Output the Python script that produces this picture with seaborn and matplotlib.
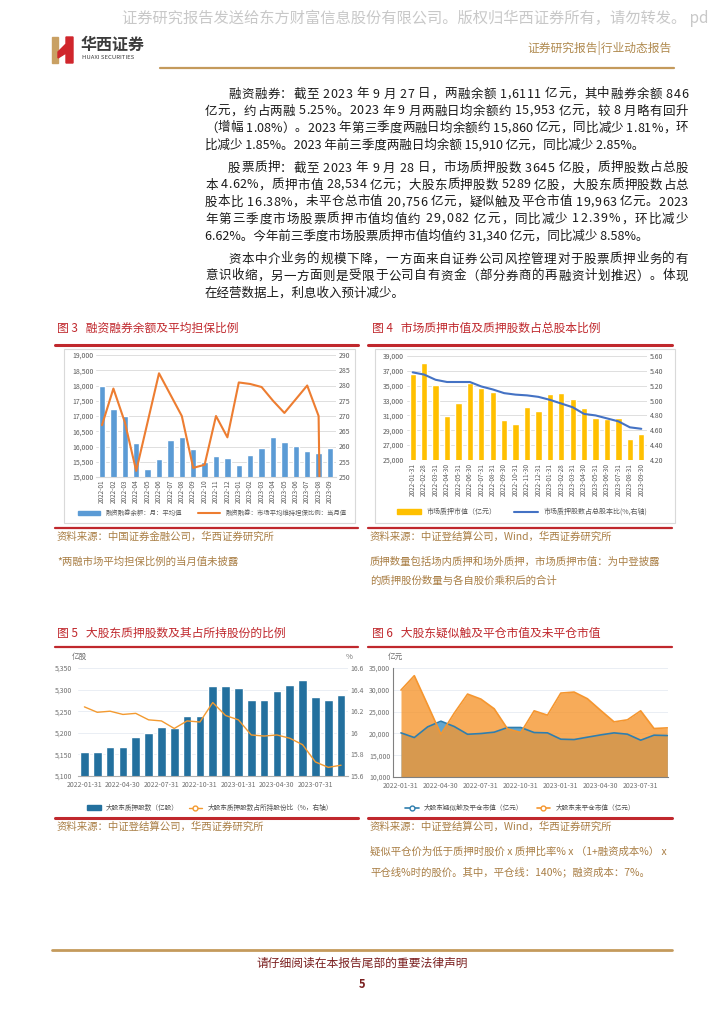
import numpy as np
import matplotlib
matplotlib.use("Agg")
import matplotlib.pyplot as plt
import seaborn as sns
from matplotlib.patches import Rectangle, Polygon, Patch
from matplotlib.lines import Line2D
from matplotlib.ticker import FuncFormatter

sns.set_style("white")
plt.rcParams['font.family'] = ['Noto Sans CJK SC', 'DejaVu Sans']
plt.rcParams['axes.unicode_minus'] = False

W, H = 724, 1024

# ---------------- data ----------------
months_3 = ['2022-01', '2022-02', '2022-03', '2022-04', '2022-05', '2022-06', '2022-07',
            '2022-08', '2022-09', '2022-10', '2022-11', '2022-12', '2023-01', '2023-02',
            '2023-03', '2023-04', '2023-05', '2023-06', '2023-07', '2023-08', '2023-09']
margin_balance = [17980, 17220, 16990, 16110, 15250, 15580, 16220, 16310, 15910, 15480, 15680,
                  15610, 15390, 15710, 15940, 16310, 16160, 16010, 15860, 15780, 15960]
# 2023-09 not disclosed (reported as 0 in source chart)
margin_ratio = [267, 279, 268, 252, 268, 284, 277, 270, 253, 254, 270,
                263, 281, 280.5, 279.5, 275, 271, 275.5, 280, 270, 0]

month_ends = ['2022-01-31', '2022-02-28', '2022-03-31', '2022-04-30', '2022-05-31', '2022-06-30',
              '2022-07-31', '2022-08-31', '2022-09-30', '2022-10-31', '2022-11-30', '2022-12-31',
              '2023-01-31', '2023-02-28', '2023-03-31', '2023-04-30', '2023-05-31', '2023-06-30',
              '2023-07-31', '2023-08-31', '2023-09-30']
pledge_value = [36600, 38000, 35060, 30900, 32700, 35400, 34660, 34200, 30450, 29830, 32100,
                31570, 33850, 34080, 33230, 31980, 30680, 30540, 30720, 27810, 28530]
pledge_share_pct = [5.38, 5.35, 5.28, 5.25, 5.25, 5.25, 5.19, 5.15, 5.10, 5.08, 5.07,
                    5.05, 5.01, 4.96, 4.91, 4.82, 4.80, 4.76, 4.72, 4.64, 4.62]

major_pledge_shares = [5155, 5155, 5167, 5166, 5190, 5199, 5214, 5212, 5238, 5239, 5308,
                       5308, 5304, 5276, 5277, 5296, 5310, 5322, 5283, 5276, 5287]
major_pledge_pct = [16.24, 16.19, 16.20, 16.17, 16.18, 16.12, 16.11, 16.04, 16.11, 16.10, 16.28,
                    16.16, 16.12, 15.98, 15.97, 15.98, 15.95, 15.89, 15.73, 15.68, 15.70]

near_liquidation = [20120, 19050, 21500, 22800, 21580, 19800, 19970, 20280, 21350, 21350, 20200,
                    20120, 18670, 18590, 19130, 19660, 20120, 19820, 18440, 19590, 19510]
not_liquidated = [29940, 33240, 26560, 19800, 24650, 29020, 27870, 25650, 21040, 20200, 25180,
                  24180, 29250, 29480, 27950, 25260, 22650, 23110, 25180, 21120, 21270]

para1 = ["融资融券：截至 2023 年 9 月 27 日，两融余额 1,6111 亿元，其中融券余额 846",
         "亿元，约占两融 5.25%。2023 年 9 月两融日均余额约 15,953 亿元，较 8 月略有回升",
         "（增幅 1.08%）。2023 年第三季度两融日均余额约 15,860 亿元，同比减少 1.81%，环",
         "比减少 1.85%。2023 年前三季度两融日均余额 15,910 亿元，同比减少 2.85%。"]
para2 = ["股票质押：截至 2023 年 9 月 28 日，市场质押股数 3645 亿股，质押股数占总股",
         "本 4.62%，质押市值 28,534 亿元；大股东质押股数 5289 亿股，大股东质押股数占总",
         "股本比 16.38%，未平仓总市值 20,756 亿元，疑似触及平仓市值 19,963 亿元。2023",
         "年第三季度市场股票质押市值均值约 29,082 亿元，同比减少 12.39%，环比减少",
         "6.62%。今年前三季度市场股票质押市值均值约 31,340 亿元，同比减少 8.58%。"]
para3 = ["资本中介业务的规模下降，一方面来自证券公司风控管理对于股票质押业务的有",
         "意识收缩，另一方面则是受限于公司自有资金（部分券商的再融资计划推迟）。体现",
         "在经营数据上，利息收入预计减少。"]

# ---------------- colours ----------------
RED = '#C0282D'
GOLD = '#C49A5C'
SRC = '#A97E45'
TICK = '#595959'
GRID = '#D9D9D9'

fig = plt.figure(figsize=(W / 100, H / 100), dpi=100)
renderer = fig.canvas.get_renderer()


def fx(x):
    return x / W


def fy(y):
    return 1 - y / H


def px_axes(x0, y0, x1, y1):
    return fig.add_axes([fx(x0), fy(y1), (x1 - x0) / W, (y1 - y0) / H])


def hline(x0, x1, y, color, lw):
    fig.add_artist(Line2D([fx(x0), fx(x1)], [fy(y), fy(y)], color=color, lw=lw,
                          transform=fig.transFigure))


def justify_line(s, x0, x1, y, size, color='#1a1a1a'):
    # spread characters so the line fills x0..x1
    ws = []
    for ch in s:
        t = fig.text(0, 0, ch, fontsize=size)
        ws.append(t.get_window_extent(renderer).width)
        t.remove()
    extra = (x1 - x0 - sum(ws)) / max(len(s) - 1, 1)
    x = x0
    for ch, w in zip(s, ws):
        fig.text(fx(x), fy(y), ch, fontsize=size, color=color, va='center', ha='left')
        x += w + extra


# ---------------- header ----------------
fig.text(fx(122), fy(18), "证券研究报告发送给东方财富信息股份有限公司。版权归华西证券所有，请勿转发。 pd",
         fontsize=11, color='#C8C8C8', va='center', ha='left')
fig.add_artist(Polygon([(fx(52), fy(37)), (fx(58), fy(37)), (fx(58), fy(63)), (fx(52), fy(63))],
                       closed=True, color='#C9A063', transform=fig.transFigure))
fig.add_artist(Polygon([(fx(58), fy(52)), (fx(66), fy(44)), (fx(66), fy(37)), (fx(73), fy(37)),
                        (fx(73), fy(63)), (fx(66), fy(63)), (fx(66), fy(53)), (fx(58), fy(58))],
                       closed=True, color='#D0262C', transform=fig.transFigure))
fig.text(fx(81), fy(45), "华西证券", fontsize=11.5, fontweight='bold', color='#3C3C3C', va='center')
fig.text(fx(82), fy(57.5), "HUAXI SECURITIES", fontsize=4.3, color='#3C3C3C', va='center')
fig.text(fx(672), fy(48), "证券研究报告|行业动态报告", fontsize=8.5, color='#B08A4F', va='center', ha='right')
hline(160, 674, 68, GOLD, 1.6)

# ---------------- body text ----------------
FS = 9
x_left, x_right, indent = 205, 688, 228
y = 94
step = 17.0
for para in (para1, para2, para3):
    for i, line in enumerate(para):
        x0 = indent if i == 0 else x_left
        if i < len(para) - 1:
            justify_line(line, x0, x_right, y, FS)
        else:
            fig.text(fx(x0), fy(y), line, fontsize=FS, color='#1a1a1a', va='center')
        y += step
    y += 6

# ---------------- figure titles / frames ----------------
fig.text(fx(57), fy(328), "图 3   融资融券余额及平均担保比例", fontsize=8.5, color=RED, va='center')
fig.text(fx(372), fy(328), "图 4   市场质押市值及质押股数占总股本比例", fontsize=8.5, color=RED, va='center')
fig.text(fx(57), fy(633), "图 5   大股东质押股数及其占所持股份的比例", fontsize=8.5, color=RED, va='center')
fig.text(fx(372), fy(633), "图 6   大股东疑似触及平仓市值及未平仓市值", fontsize=8.5, color=RED, va='center')

for (a, b) in ((55, 358), (368, 672)):
    hline(a, b, 345, RED, 2.2)
    hline(a, b, 528, RED, 1.6)
    hline(a, b, 647, RED, 1.6)
    hline(a, b, 818, RED, 2.2)

for (a, b) in ((64, 355), (375, 675)):
    fig.add_artist(Rectangle((fx(a), fy(523)), (b - a) / W, (523 - 349) / H, fill=False,
                             ec=GRID, lw=0.8, transform=fig.transFigure))

fig.text(fx(57), fy(537), "资料来源：中国证券金融公司，华西证券研究所", fontsize=7.5, color=SRC, va='center')
fig.text(fx(57), fy(562), "*两融市场平均担保比例的当月值未披露", fontsize=7.5, color=SRC, va='center')
fig.text(fx(370), fy(537), "资料来源：中证登结算公司，Wind，华西证券研究所", fontsize=7.5, color=SRC, va='center')
fig.text(fx(370), fy(562), "质押数量包括场内质押和场外质押，市场质押市值：为中登披露", fontsize=7.5, color=SRC, va='center')
fig.text(fx(370), fy(581), "的质押股份数量与各自股价乘积后的合计", fontsize=7.5, color=SRC, va='center')
fig.text(fx(57), fy(827), "资料来源：中证登结算公司，华西证券研究所", fontsize=7.5, color=SRC, va='center')
fig.text(fx(370), fy(827), "资料来源：中证登结算公司，Wind，华西证券研究所", fontsize=7.5, color=SRC, va='center')
fig.text(fx(370), fy(852), "疑似平仓价为低于质押时股价 x 质押比率% x （1+融资成本%） x", fontsize=7.5, color=SRC, va='center')
fig.text(fx(370), fy(872), "平仓线%时的股价。其中，平仓线：140%；融资成本：7%。", fontsize=7.5, color=SRC, va='center')

comma = FuncFormatter(lambda v, p: f"{v:,.0f}")


def style_excel(ax):
    for s in ax.spines.values():
        s.set_visible(False)
    ax.tick_params(length=0, labelsize=5, colors=TICK, pad=2)
    ax.grid(axis='y', color=GRID, lw=0.6)
    ax.set_axisbelow(True)
    ax.set_xlabel('')
    ax.set_ylabel('')


# ---------------- chart 3 ----------------
ax3 = px_axes(96.3, 355, 335.7, 477)
sns.barplot(x=months_3, y=margin_balance, ax=ax3, color='#5B9BD5', saturation=1, width=0.55)
ax3.set_ylim(15000, 19000)
ax3.set_yticks(np.arange(15000, 19001, 500))
ax3.yaxis.set_major_formatter(comma)
style_excel(ax3)
ax3.spines['bottom'].set_visible(True)
ax3.spines['bottom'].set_color(GRID)
ax3.tick_params(axis='x', rotation=90, labelsize=4.6)
ax3b = ax3.twinx()
sns.lineplot(x=np.arange(len(months_3)), y=margin_ratio, ax=ax3b, color='#ED7D31', lw=1.5)
ax3b.set_ylim(250, 290)
ax3b.set_yticks(np.arange(250, 291, 5))
style_excel(ax3b)
ax3b.grid(False)
ax3.set_xlim(-0.5, len(months_3) - 0.5)
ax3.legend(handles=[Patch(color='#5B9BD5', label='融资融券余额：月：平均值'),
                    Line2D([], [], color='#ED7D31', lw=1.5, label='融资融券：市场平均维持担保比例：当月值')],
           loc='center', bbox_to_anchor=(fx(212), fy(513)), bbox_transform=fig.transFigure,
           ncol=2, frameon=False, fontsize=4.6, handlelength=3.5, columnspacing=2.5,
           labelcolor=TICK)

# ---------------- chart 4 ----------------
ax4 = px_axes(407, 356, 647, 460)
sns.barplot(x=month_ends, y=pledge_value, ax=ax4, color='#FFC000', saturation=1, width=0.55)
ax4.set_ylim(25000, 39000)
ax4.set_yticks(np.arange(25000, 39001, 2000))
ax4.yaxis.set_major_formatter(comma)
style_excel(ax4)
ax4.tick_params(axis='x', rotation=90, labelsize=4.6)
ax4b = ax4.twinx()
sns.lineplot(x=np.arange(len(month_ends)), y=pledge_share_pct, ax=ax4b, color='#4472C4', lw=1.5)
ax4b.set_ylim(4.2, 5.6)
ax4b.set_yticks(np.arange(4.2, 5.61, 0.2))
ax4b.yaxis.set_major_formatter(FuncFormatter(lambda v, p: f"{v:.2f}"))
style_excel(ax4b)
ax4b.grid(False)
ax4.set_xlim(-0.5, len(month_ends) - 0.5)
ax4.legend(handles=[Patch(color='#FFC000', label='市场质押市值（亿元）'),
                    Line2D([], [], color='#4472C4', lw=1.5, label='市场质押股数占总股本比(%,右轴)')],
           loc='center', bbox_to_anchor=(fx(522), fy(512)), bbox_transform=fig.transFigure,
           ncol=2, frameon=False, fontsize=5, handlelength=3.5, columnspacing=2.5,
           labelcolor=TICK)

tick_idx = list(range(0, 21, 3))

# ---------------- chart 5 ----------------
ax5 = px_axes(78, 668, 347.5, 776)
sns.barplot(x=month_ends, y=major_pledge_shares, ax=ax5, color='#23709E', saturation=1, width=0.68)
ax5.set_ylim(5100, 5350)
ax5.set_yticks(np.arange(5100, 5351, 50))
ax5.yaxis.set_major_formatter(comma)
style_excel(ax5)
ax5.grid(axis='y', color='#E6EBF2', lw=0.6)
ax5.spines['bottom'].set_visible(True)
ax5.spines['bottom'].set_color('#B0B0B0')
ax5.set_xticks(tick_idx)
ax5.set_xticklabels([month_ends[i] for i in tick_idx])
ax5.tick_params(labelsize=5, colors='#707070')
ax5.tick_params(axis='y', pad=4)
ax5.tick_params(axis='x', pad=3.5)
ax5b = ax5.twinx()
sns.lineplot(x=np.arange(len(month_ends)), y=major_pledge_pct, ax=ax5b, color='#F39A30', lw=1)
ax5b.set_ylim(15.6, 16.6)
ax5b.set_yticks([15.6, 15.8, 16.0, 16.2, 16.4, 16.6])
ax5b.yaxis.set_major_formatter(FuncFormatter(lambda v, p: f"{v:g}"))
style_excel(ax5b)
ax5b.grid(False)
ax5b.tick_params(labelsize=5, colors='#707070')
ax5.set_xlim(-0.5, len(month_ends) - 0.5)
fig.text(fx(72), fy(657), "亿股", fontsize=5.5, color='#707070', va='center')
fig.text(fx(346), fy(657), "%", fontsize=5.5, color='#707070', va='center')
ax5.legend(handles=[Patch(color='#23709E', label='大股东质押股数（亿股）'),
                    Line2D([], [], color='#F39A30', lw=1, marker='o', mfc='white', ms=3.5,
                           label='大股东质押股数占所持股份比（%，右轴）')],
           loc='center', bbox_to_anchor=(fx(210), fy(808)), bbox_transform=fig.transFigure,
           ncol=2, frameon=False, fontsize=4.8, handlelength=2, columnspacing=1.5,
           labelcolor='#505050')

# ---------------- chart 6 ----------------
ax6 = px_axes(393, 668, 668, 777)
xs = np.arange(len(month_ends))
ax6.fill_between(xs, near_liquidation, 10000, color='#62A6CF', lw=0)
sns.lineplot(x=xs, y=near_liquidation, ax=ax6, color='#2F7EAE', lw=1.2)
ax6.fill_between(xs, not_liquidated, 10000, color='#F5962F', alpha=0.8, lw=0)
sns.lineplot(x=xs, y=not_liquidated, ax=ax6, color='#F5962F', lw=1.2)
ax6.set_xlim(-0.6, len(month_ends) - 0.95)
ax6.set_ylim(10000, 35000)
ax6.set_yticks(np.arange(10000, 35001, 5000))
ax6.yaxis.set_major_formatter(comma)
style_excel(ax6)
ax6.grid(axis='y', color='#E6EBF2', lw=0.6)
ax6.spines['left'].set_visible(True)
ax6.spines['left'].set_color('#808080')
ax6.spines['bottom'].set_visible(True)
ax6.spines['bottom'].set_color('#808080')
ax6.set_xticks(tick_idx)
ax6.set_xticklabels([month_ends[i] for i in tick_idx])
ax6.tick_params(labelsize=5, colors='#707070')
ax6.tick_params(axis='x', pad=3.5)
fig.text(fx(388), fy(657), "亿元", fontsize=5.5, color='#707070', va='center')
ax6.legend(handles=[Line2D([], [], color='#2F7EAE', lw=1.2, marker='o', mfc='white', ms=3.5,
                           label='大股东疑似触及平仓市值（亿元）'),
                    Line2D([], [], color='#F5962F', lw=1.2, marker='o', mfc='white', ms=3.5,
                           label='大股东未平仓市值（亿元）')],
           loc='center', bbox_to_anchor=(fx(520), fy(808)), bbox_transform=fig.transFigure,
           ncol=2, frameon=False, fontsize=4.8, handlelength=2, columnspacing=2,
           labelcolor='#505050')

# ---------------- footer ----------------
hline(52, 672, 950, GOLD, 2)
fig.text(fx(362), fy(963), "请仔细阅读在本报告尾部的重要法律声明", fontsize=8.5, color='#7A1F1F',
         ha='center', va='center')
fig.text(fx(362), fy(985), "5", fontsize=8, color='#7A1F1F', ha='center', va='center', fontweight='bold')

fig.savefig("out.png", dpi=100)
